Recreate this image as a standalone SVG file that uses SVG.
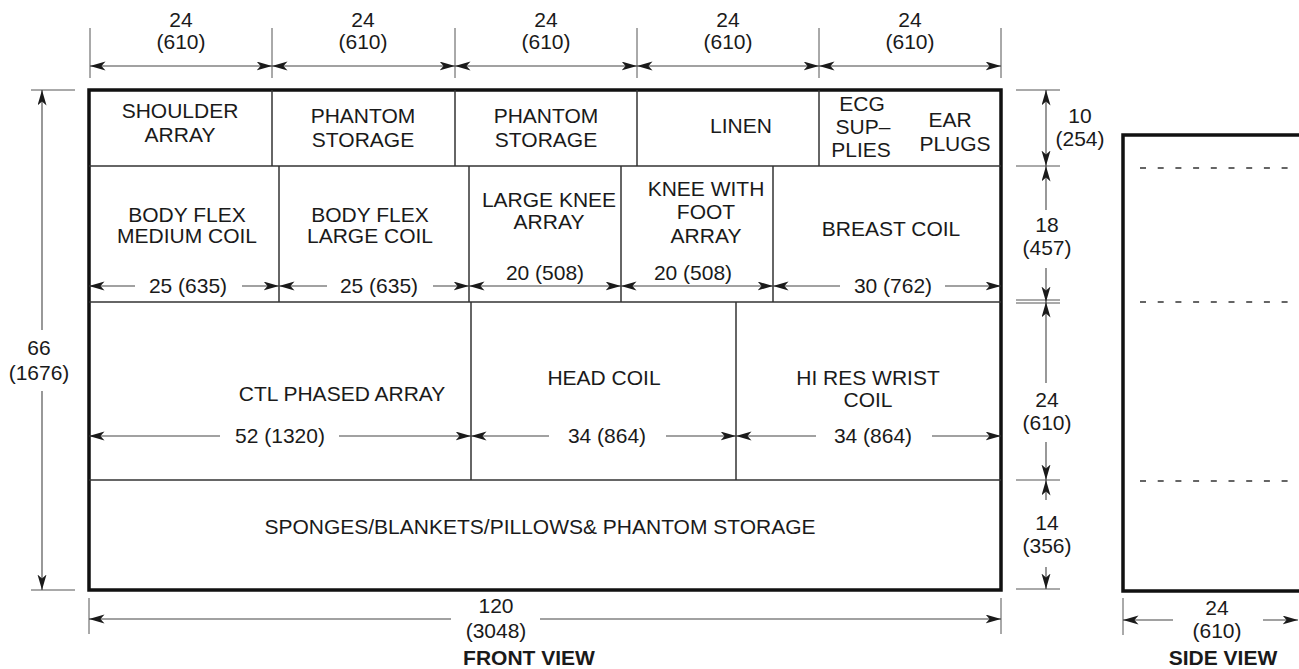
<svg xmlns="http://www.w3.org/2000/svg" width="1299" height="669" viewBox="0 0 1299 669">
<style>
text{font-family:"Liberation Sans",Arial,Helvetica,sans-serif;font-size:21px;fill:#1a1a1a;text-anchor:middle}
.b{font-weight:bold}
.cell{stroke:#333;stroke-width:1.5;fill:none}
.outer{stroke:#111;stroke-width:3.5;fill:none}
.dim{stroke:#444;stroke-width:1.1;fill:none}
.ext{stroke:#555;stroke-width:1;fill:none}
.two{marker-start:url(#ah);marker-end:url(#ah)}
.one{marker-end:url(#ah)}
.dash{stroke:#333;stroke-width:1.5;stroke-dasharray:6 11.7;fill:none}
</style>
<defs>
<marker id="ah" markerUnits="userSpaceOnUse" markerWidth="17" markerHeight="11" refX="15.5" refY="4.5" orient="auto-start-reverse">
<path d="M0,0 L15.5,4.5 L0,9 L4,4.5 z" fill="#1a1a1a"/>
</marker>
</defs>
<rect width="1299" height="669" fill="#fff"/>

<g id="front-view">
<rect class="outer" x="89" y="90" width="912" height="500"/>
<line class="cell" x1="89" y1="166" x2="1001" y2="166"/>
<line class="cell" x1="89" y1="302" x2="1001" y2="302"/>
<line class="cell" x1="89" y1="480" x2="1001" y2="480"/>
</g>

<g id="shoulder-array">
<line class="cell" x1="272" y1="90" x2="272" y2="166"/>
<text x="180" y="118">SHOULDER</text><text x="180" y="142">ARRAY</text>
</g>
<g id="phantom-storage-1">
<line class="cell" x1="455" y1="90" x2="455" y2="166"/>
<text x="363" y="123">PHANTOM</text><text x="363" y="147">STORAGE</text>
</g>
<g id="phantom-storage-2">
<line class="cell" x1="637" y1="90" x2="637" y2="166"/>
<text x="546" y="123">PHANTOM</text><text x="546" y="147">STORAGE</text>
</g>
<g id="linen">
<line class="cell" x1="819" y1="90" x2="819" y2="166"/>
<text x="741" y="133">LINEN</text>
</g>
<g id="ecg-supplies">
<text x="862" y="111">ECG</text><text x="863" y="134">SUP–</text><text x="861" y="157">PLIES</text>
</g>
<g id="ear-plugs">
<text x="950" y="127">EAR</text><text x="955" y="151">PLUGS</text>
</g>

<g id="body-flex-medium">
<line class="cell" x1="279" y1="166" x2="279" y2="302"/>
<text x="187" y="222">BODY FLEX</text><text x="187" y="243">MEDIUM COIL</text>
</g>
<g id="body-flex-large">
<line class="cell" x1="469" y1="166" x2="469" y2="302"/>
<text x="370" y="222">BODY FLEX</text><text x="370" y="243">LARGE COIL</text>
</g>
<g id="large-knee-array">
<line class="cell" x1="621" y1="166" x2="621" y2="302"/>
<text x="549" y="207">LARGE KNEE</text><text x="549" y="229">ARRAY</text>
</g>
<g id="knee-foot-array">
<line class="cell" x1="773" y1="166" x2="773" y2="302"/>
<text x="706" y="196">KNEE WITH</text><text x="706" y="219">FOOT</text><text x="706" y="243">ARRAY</text>
</g>
<g id="breast-coil">
<text x="891" y="236">BREAST COIL</text>
</g>

<g id="ctl-phased-array">
<line class="cell" x1="471" y1="302" x2="471" y2="480"/>
<text x="342" y="401">CTL PHASED ARRAY</text>
</g>
<g id="head-coil">
<line class="cell" x1="736" y1="302" x2="736" y2="480"/>
<text x="604" y="385">HEAD COIL</text>
</g>
<g id="hi-res-wrist-coil">
<text x="868" y="385">HI RES WRIST</text><text x="868" y="407">COIL</text>
</g>
<g id="sponges">
<text x="540" y="534">SPONGES/BLANKETS/PILLOWS&amp; PHANTOM STORAGE</text>
</g>

<g id="side-view">
<path class="outer" d="M1301,135 L1123,135 L1123,591 L1301,591"/>
<line class="dash" x1="1140" y1="168" x2="1299" y2="168"/>
<line class="dash" x1="1140" y1="302" x2="1299" y2="302"/>
<line class="dash" x1="1140" y1="481" x2="1299" y2="481"/>
</g>

<g id="connectors">
<line class="ext" x1="90" y1="28" x2="90" y2="78"/>
<line class="ext" x1="272" y1="28" x2="272" y2="78"/>
<line class="ext" x1="455" y1="28" x2="455" y2="78"/>
<line class="ext" x1="637" y1="28" x2="637" y2="78"/>
<line class="ext" x1="819" y1="28" x2="819" y2="78"/>
<line class="ext" x1="1001" y1="28" x2="1001" y2="78"/>
<line class="dim two" x1="90" y1="66" x2="272" y2="66"/>
<line class="dim two" x1="272" y1="66" x2="455" y2="66"/>
<line class="dim two" x1="455" y1="66" x2="637" y2="66"/>
<line class="dim two" x1="637" y1="66" x2="819" y2="66"/>
<line class="dim two" x1="819" y1="66" x2="1001" y2="66"/>
<line class="dim one" x1="135" y1="286" x2="89" y2="286"/>
<line class="dim one" x1="242" y1="286" x2="279" y2="286"/>
<line class="dim one" x1="327" y1="286" x2="279" y2="286"/>
<line class="dim one" x1="433" y1="286" x2="469" y2="286"/>
<line class="dim two" x1="469" y1="286" x2="621" y2="286"/>
<line class="dim two" x1="621" y1="286" x2="773" y2="286"/>
<line class="dim one" x1="840" y1="286" x2="773" y2="286"/>
<line class="dim one" x1="945" y1="286" x2="1001" y2="286"/>
<line class="dim one" x1="220" y1="436" x2="89" y2="436"/>
<line class="dim one" x1="339" y1="436" x2="471" y2="436"/>
<line class="dim one" x1="549" y1="436" x2="471" y2="436"/>
<line class="dim one" x1="666" y1="436" x2="736" y2="436"/>
<line class="dim one" x1="816" y1="436" x2="736" y2="436"/>
<line class="dim one" x1="932" y1="436" x2="1001" y2="436"/>
<line class="ext" x1="89" y1="598" x2="89" y2="634"/>
<line class="ext" x1="1001" y1="598" x2="1001" y2="634"/>
<line class="dim one" x1="451" y1="619" x2="89" y2="619"/>
<line class="dim one" x1="540" y1="619" x2="1001" y2="619"/>
<line class="ext" x1="31" y1="90" x2="75" y2="90"/>
<line class="ext" x1="31" y1="590" x2="75" y2="590"/>
<line class="dim one" x1="42" y1="330" x2="42" y2="90"/>
<line class="dim one" x1="42" y1="391" x2="42" y2="590"/>
<line class="ext" x1="1016" y1="90" x2="1060" y2="90"/>
<line class="ext" x1="1016" y1="166" x2="1060" y2="166"/>
<line class="ext" x1="1016" y1="300" x2="1060" y2="300"/>
<line class="ext" x1="1016" y1="303" x2="1060" y2="303"/>
<line class="ext" x1="1016" y1="480" x2="1060" y2="480"/>
<line class="ext" x1="1016" y1="589" x2="1060" y2="589"/>
<line class="dim two" x1="1046" y1="90" x2="1046" y2="166"/>
<line class="dim one" x1="1046" y1="210" x2="1046" y2="166"/>
<line class="dim one" x1="1046" y1="268" x2="1046" y2="302"/>
<line class="dim one" x1="1046" y1="383" x2="1046" y2="302"/>
<line class="dim one" x1="1046" y1="442" x2="1046" y2="480"/>
<line class="dim one" x1="1046" y1="500" x2="1046" y2="480"/>
<line class="dim one" x1="1046" y1="567" x2="1046" y2="589"/>
<line class="ext" x1="1123" y1="598" x2="1123" y2="635"/>
<line class="dim one" x1="1173" y1="620" x2="1123" y2="620"/>
<line class="dim one" x1="1263" y1="620" x2="1298" y2="620"/>
</g>

<g id="dimension-labels">
<text x="181" y="27">24</text><text x="181" y="49">(610)</text>
<text x="363" y="27">24</text><text x="363" y="49">(610)</text>
<text x="546" y="27">24</text><text x="546" y="49">(610)</text>
<text x="728" y="27">24</text><text x="728" y="49">(610)</text>
<text x="910" y="27">24</text><text x="910" y="49">(610)</text>
<text x="188" y="293">25 (635)</text>
<text x="379" y="293">25 (635)</text>
<text x="545" y="280">20 (508)</text>
<text x="693" y="280">20 (508)</text>
<text x="893" y="293">30 (762)</text>
<text x="280" y="443">52 (1320)</text>
<text x="607" y="443">34 (864)</text>
<text x="873" y="443">34 (864)</text>
<text x="496" y="613">120</text><text x="496" y="638">(3048)</text>
<text x="39" y="355">66</text><text x="39" y="380">(1676)</text>
<text x="1080" y="123">10</text><text x="1080" y="146">(254)</text>
<text x="1047" y="232">18</text><text x="1047" y="255">(457)</text>
<text x="1047" y="407">24</text><text x="1047" y="430">(610)</text>
<text x="1047" y="530">14</text><text x="1047" y="553">(356)</text>
<text x="1217" y="615">24</text><text x="1217" y="638">(610)</text>
<text class="b" x="529" y="665">FRONT VIEW</text>
<text class="b" x="1223" y="665">SIDE VIEW</text>
</g>
</svg>
